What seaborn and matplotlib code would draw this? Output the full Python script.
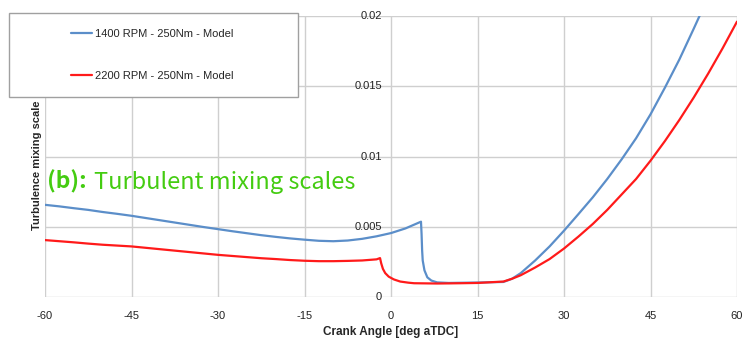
import matplotlib
matplotlib.use("Agg")
import matplotlib.pyplot as plt
import seaborn as sns
import pandas as pd
from matplotlib.patches import Rectangle

# ---- data ----
x_1400 = [-60, -57.5, -55, -52.5, -50, -47.5, -45, -42.5, -40, -37.5, -35, -32.5, -30,
          -27.5, -25, -22.5, -20, -17.5, -15, -12.5, -10, -7.5, -5, -2.5, 0, 2.5, 5.2,
          5.3, 5.4, 5.5, 5.8, 6.3, 7, 8, 10, 15, 19.5,
          21, 22.5, 25, 27.5, 30, 32.5, 35, 37.5, 40, 42.5, 45, 47.5, 50, 52.5, 53.5, 54.5]
y_1400 = [0.00656, 0.00645, 0.00632, 0.0062, 0.00605, 0.00592, 0.00578, 0.00562, 0.00546,
          0.0053, 0.00514, 0.00498, 0.00483, 0.00468, 0.00454, 0.0044, 0.00428, 0.00417,
          0.00408, 0.0040, 0.00397, 0.00402, 0.00414, 0.00432, 0.00455, 0.00488, 0.00536,
          0.0045, 0.0033, 0.0026, 0.0019, 0.0014, 0.00117, 0.00104, 0.0010, 0.00103, 0.00107,
          0.0013, 0.0017, 0.0026, 0.0036, 0.00472, 0.0059, 0.0071, 0.0084, 0.0098, 0.0113,
          0.0130, 0.0149, 0.0169, 0.0191, 0.0200, 0.0209]

x_2200 = [-60, -57.5, -55, -52.5, -50, -47.5, -45, -42.5, -40, -37.5, -35, -32.5, -30,
          -27.5, -25, -22.5, -20, -17.5, -15, -12.5, -10, -7.5, -5, -2.5, -1.9,
          -1.7, -1.4, -1.0, -0.4, 0.5, 1.6, 3, 4, 8, 12, 15, 19.5,
          21, 22.5, 25, 27.5, 30, 32.5, 35, 37.5, 40, 42.5, 45, 47.5, 50, 52.5, 55, 57.5, 60]
y_2200 = [0.00405, 0.00397, 0.00389, 0.0038, 0.00372, 0.00366, 0.0036, 0.0035, 0.0034,
          0.0033, 0.0032, 0.0031, 0.0030, 0.00292, 0.00284, 0.00276, 0.0027, 0.00263,
          0.00258, 0.00255, 0.00255, 0.00257, 0.0026, 0.00268, 0.00277,
          0.0024, 0.0020, 0.0017, 0.00145, 0.00125, 0.0011, 0.00102, 0.00098, 0.00096,
          0.00098, 0.0010, 0.0011,
          0.0013, 0.00155, 0.0021, 0.0027, 0.00345, 0.0043, 0.0052, 0.0062, 0.0073, 0.0084,
          0.0097, 0.0111, 0.0126, 0.0142, 0.0159, 0.0177, 0.0196]

series_labels = ["1400 RPM - 250Nm - Model", "2200 RPM - 250Nm - Model"]
series_colors = ["#5b8ec9", "#ff1a1a"]

x_ticks = [-60, -45, -30, -15, 0, 15, 30, 45, 60]
y_ticks = [0, 0.005, 0.01, 0.015, 0.02]
y_tick_labels = ["0", "0.005", "0.01", "0.015", "0.02"]

x_label = "Crank Angle [deg aTDC]"
y_label = "Turbulence mixing scale"
annotation = ["(b):", "Turbulent mixing scales"]

df = pd.concat([
    pd.DataFrame({"x": x_1400, "y": y_1400, "series": series_labels[0]}),
    pd.DataFrame({"x": x_2200, "y": y_2200, "series": series_labels[1]}),
])

sns.set_theme(style="white")
plt.rcParams["font.family"] = ["Liberation Sans", "DejaVu Sans"]

fig = plt.figure(figsize=(7.42, 3.40), dpi=100)
ax = fig.add_axes([45 / 742, 1 - 297 / 340, 692 / 742, 281 / 340])

sns.lineplot(data=df, x="x", y="y", hue="series", palette=series_colors,
             hue_order=series_labels, sort=False, estimator=None, linewidth=1.6,
             ax=ax, legend=False)

ax.set_xlim(-60, 60)
ax.set_ylim(0, 0.02)
ax.set_xticks(x_ticks)
ax.set_yticks(y_ticks)
ax.set_xticklabels([str(t) for t in x_ticks], fontsize=8, color="#222222")
ax.set_yticklabels([])
ax.tick_params(axis="both", length=0, pad=10)
ax.tick_params(axis="y", pad=0)
for s in ax.spines.values():
    s.set_visible(False)
ax.grid(True, color="#cfcfcf", linewidth=1.0)
ax.set_axisbelow(True)

for val, lab in zip(y_ticks, y_tick_labels):
    ax.text(-1.6, val, lab, ha="right", va="center", fontsize=8, color="#222222")

ax.set_xlabel(x_label, fontsize=8.5, fontweight="bold", labelpad=4)
ax.set_ylabel("")
fig.text(37 / 742, 1 - 165 / 340, y_label, rotation=90, ha="center", va="center",
         fontsize=8, fontweight="bold")

# annotation
fig.text(47 / 742, 1 - 182 / 340, annotation[0], fontsize=16.5, fontweight="bold",
         color="#44cc11", va="center", ha="left",
         family=["Noto Sans CJK KR", "DejaVu Sans"])
fig.text(94 / 742, 1 - 182 / 340, annotation[1], fontsize=17,
         color="#44cc11", va="center", ha="left",
         family=["Noto Sans CJK KR", "DejaVu Sans"])

# legend box
rect = Rectangle((9 / 742, 1 - 97 / 340), 289 / 742, 84 / 340, transform=fig.transFigure,
                 facecolor="white", edgecolor="#a0a0a0", linewidth=1.0, zorder=5)
fig.patches.append(rect)
handles = ax.get_lines()[:2]
leg = fig.legend(handles, series_labels, loc="center",
                 bbox_to_anchor=(152 / 742, 1 - 55 / 340), frameon=False,
                 fontsize=8, labelspacing=2.9, handlelength=1.9, handletextpad=0.3)
leg.set_zorder(6)

fig.savefig("out.png", dpi=100)
